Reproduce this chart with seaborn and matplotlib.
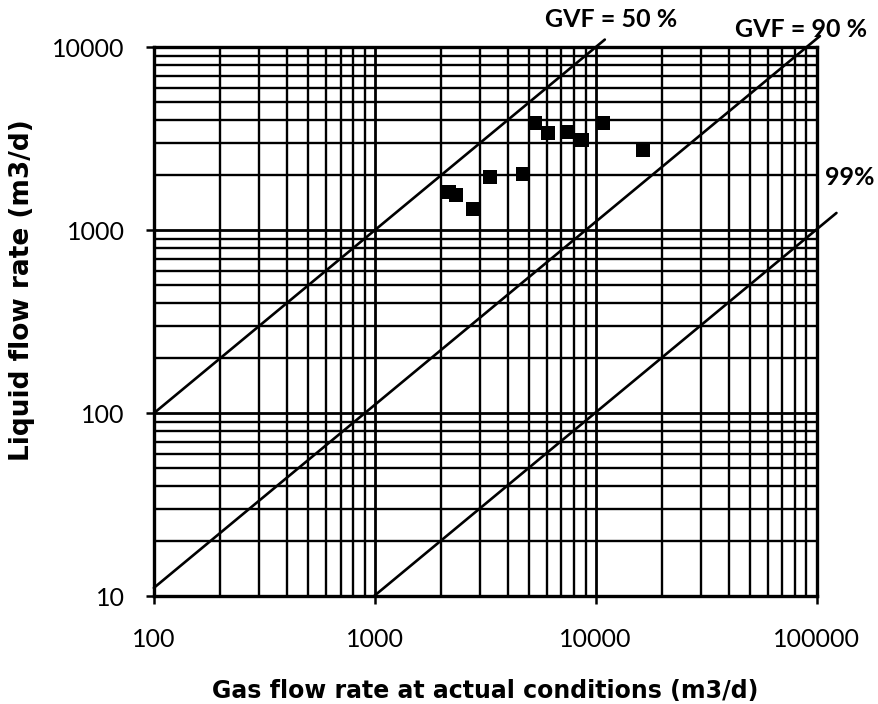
import numpy as np
import pandas as pd
import matplotlib
matplotlib.use("Agg")
import matplotlib.pyplot as plt
import seaborn as sns
from matplotlib.ticker import FuncFormatter, LogLocator, NullFormatter

# Measured points (gas rate at actual conditions, liquid rate), m3/d
gas_rate = [2160, 2330, 2770, 3340, 4690, 5300, 6090, 7500, 8710, 10800, 16400]
liquid_rate = [1610, 1550, 1300, 1950, 2040, 3830, 3380, 3450, 3100, 3830, 2740]

# Constant gas volume fraction lines
gvf_values = [0.50, 0.90, 0.99]
gvf_labels = ["GVF = 50 %", "GVF = 90 %", "99%"]

x_lim = (100, 100000)
y_lim = (10, 10000)
x_ticks = [100, 1000, 10000, 100000]
y_ticks = [10, 100, 1000, 10000]

# how far each GVF line runs past the frame, and where its label sits
# (multipliers on the line's end point)
stub = {0.50: 1.10, 0.90: 1.15, 0.99: 1.23}
label_pos = {0.50: (1.18, 1.41), 0.90: (0.95, 1.25), 0.99: (1.41, 1.93)}

df = pd.DataFrame({"gas": gas_rate, "liquid": liquid_rate})

sns.set_style("white")
plt.rcParams["font.family"] = ["Lato", "DejaVu Sans"]
plt.rcParams.update({"text.color": "black", "axes.labelcolor": "black",
                     "xtick.color": "black", "ytick.color": "black"})

fig = plt.figure(figsize=(8.79, 7.04), dpi=100)
ax = fig.add_axes([0.175, 0.153, 0.754, 0.780])
ax.set_xscale("log")
ax.set_yscale("log")
ax.set_xlim(*x_lim)
ax.set_ylim(*y_lim)

# grid
ax.xaxis.set_major_locator(LogLocator(base=10))
ax.yaxis.set_major_locator(LogLocator(base=10))
ax.xaxis.set_minor_locator(LogLocator(base=10, subs=np.arange(2, 10)))
ax.yaxis.set_minor_locator(LogLocator(base=10, subs=np.arange(2, 10)))
ax.xaxis.set_minor_formatter(NullFormatter())
ax.yaxis.set_minor_formatter(NullFormatter())
ax.grid(True, which="major", color="black", lw=2.0)
ax.grid(True, which="minor", color="black", lw=1.7)
ax.set_axisbelow(True)

# GVF lines: liquid = gas * (1 - gvf) / gvf
for gvf, lab in zip(gvf_values, gvf_labels):
    ratio = (1 - gvf) / gvf
    x0 = max(x_lim[0], y_lim[0] / ratio)
    x1 = min(x_lim[1], y_lim[1] / ratio)
    xs = np.array([x0, x1 * stub[gvf]])
    ax.plot(xs, xs * ratio, color="black", lw=1.9, clip_on=False, zorder=3)
    fx, fy = label_pos[gvf]
    ax.text(x1 * fx, x1 * ratio * fy, lab, fontsize=18, fontweight="bold",
            ha="center", va="center", clip_on=False)

sns.scatterplot(data=df, x="gas", y="liquid", marker="s", color="black",
                s=105, edgecolor="black", linewidth=0, ax=ax, zorder=4)

ax.set_xticks(x_ticks)
ax.set_yticks(y_ticks)
fmt = FuncFormatter(lambda v, p: f"{int(v)}")
ax.xaxis.set_major_formatter(fmt)
ax.yaxis.set_major_formatter(fmt)
ax.tick_params(axis="both", which="major", length=6, width=1.8, labelsize=18,
               direction="out", bottom=True, left=True)
ax.tick_params(axis="x", pad=17)
ax.tick_params(axis="y", pad=15)
ax.tick_params(which="minor", length=0)

for sp in ax.spines.values():
    sp.set_color("black")
    sp.set_linewidth(2.4)

ax.set_xlabel("Gas flow rate at actual conditions (m3/d)", fontsize=17,
              fontweight="bold", family="DejaVu Sans", labelpad=20)
ax.set_ylabel("Liquid flow rate (m3/d)", fontsize=19, fontweight="bold",
              family="DejaVu Sans")
ax.yaxis.set_label_coords(-0.18, 0.557)

fig.savefig("out.png", dpi=100, facecolor="white")
